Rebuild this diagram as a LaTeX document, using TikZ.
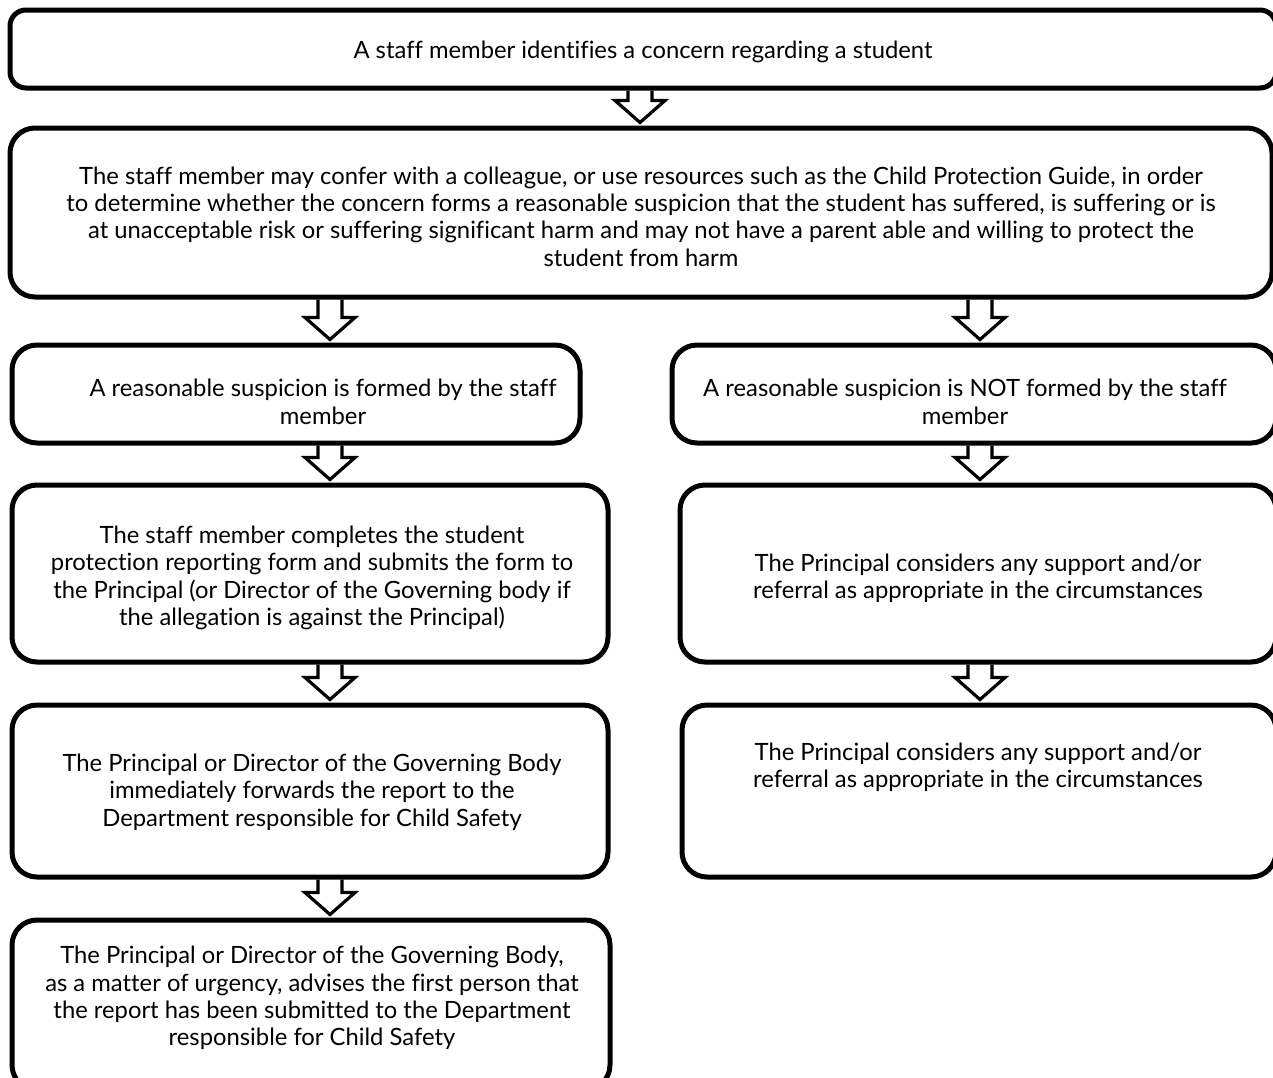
\documentclass[tikz,border=0pt]{standalone}
\usepackage{fontspec}
\setmainfont[Ligatures=NoCommon]{Lato}
\usetikzlibrary{calc}

\tikzset{
  box/.style={draw,line width=2.5pt,rounded corners=12.5pt,inner sep=0pt},
  txt/.style={align=center,inner sep=0pt,font=\fontsize{11.9}{13.7}\selectfont},
  hollow/.style={line width=1.6pt,to path={let \p1=(\tikztostart), \p2=(\tikztotarget) in
    (\x1-6pt,\y1) -- (\x1-6pt,\y2+12.5pt) -- (\x1-12.5pt,\y2+12.5pt) -- (\x1,\y2+1.5pt)
    -- (\x1+12.5pt,\y2+12.5pt) -- (\x1+6pt,\y2+12.5pt) -- (\x1+6pt,\y1)}}
}

\begin{document}
\begin{tikzpicture}[x=0.5pt,y=-0.5pt]
\useasboundingbox (0,0) rectangle (1273,1077);
\clip (0,0) rectangle (1273,1077);
\coordinate (colM) at (640,0);
\coordinate (colL) at (330,0);
\coordinate (colR) at (980,0);
% boxes
\node (b1) at (643,49) [box,rounded corners=8pt,minimum width=633pt,minimum height=39pt] {};
\node (b2) at (641,212.5) [box,minimum width=631pt,minimum height=84.5pt] {};
\node (b3l) at (296,394) [box,minimum width=284pt,minimum height=49pt] {};
\node (b3r) at (974,394) [box,minimum width=302pt,minimum height=49pt] {};
\node (b4l) at (310,573.5) [box,minimum width=298pt,minimum height=88.5pt] {};
\node (b4r) at (978,573.5) [box,minimum width=298pt,minimum height=88.5pt] {};
\node (b5l) at (310,791) [box,minimum width=298pt,minimum height=86pt] {};
\node (b5r) at (979,791) [box,minimum width=297pt,minimum height=86pt] {};
\node (b6l) at (311,1005) [box,minimum width=299pt,minimum height=85pt] {};
% texts
\node (t1) at (643,52) [txt] {A staff member identifies a concern regarding a student};
\node (t2) at (641,216.5) [txt] {The staff member may confer with a colleague, or use resources such as the Child Protection Guide, in order\\
to determine whether the concern forms a reasonable suspicion that the student has suffered, is suffering or is\\
at unacceptable risk or suffering significant harm and may not have a parent able and willing to protect the\\
student from harm};
\node (t3l) at (323,402) [txt] {A reasonable suspicion is formed by the staff\\member};
\node (t3r) at (965,402) [txt] {A reasonable suspicion is NOT formed by the staff\\member};
\node (t4l) at (312,578) [txt] {The staff member completes the student\\
protection reporting form and submits the form to\\
the Principal (or Director of the Governing body if\\
the allegation is against the Principal)};
\node (t4r) at (978,578) [txt] {The Principal considers any support and/or\\referral as appropriate in the circumstances};
\node (t5l) at (312,792) [txt] {The Principal or Director of the Governing Body\\
immediately forwards the report to the\\
Department responsible for Child Safety};
\node (t5r) at (978,767) [txt] {The Principal considers any support and/or\\referral as appropriate in the circumstances};
\node (t6l) at (312,998) [txt] {The Principal or Director of the Governing Body,\\
as a matter of urgency, advises the first person that\\
the report has been submitted to the Department\\
responsible for Child Safety};
% arrows
\draw[hollow] (b1.south -| colM) to (b2.north -| colM);
\draw[hollow] (b2.south -| colL) to (b3l.north -| colL);
\draw[hollow] (b2.south -| colR) to (b3r.north -| colR);
\draw[hollow] (b3l.south -| colL) to (b4l.north -| colL);
\draw[hollow] (b3r.south -| colR) to (b4r.north -| colR);
\draw[hollow] (b4l.south -| colL) to (b5l.north -| colL);
\draw[hollow] (b4r.south -| colR) to (b5r.north -| colR);
\draw[hollow] (b5l.south -| colL) to (b6l.north -| colL);
\end{tikzpicture}
\end{document}
